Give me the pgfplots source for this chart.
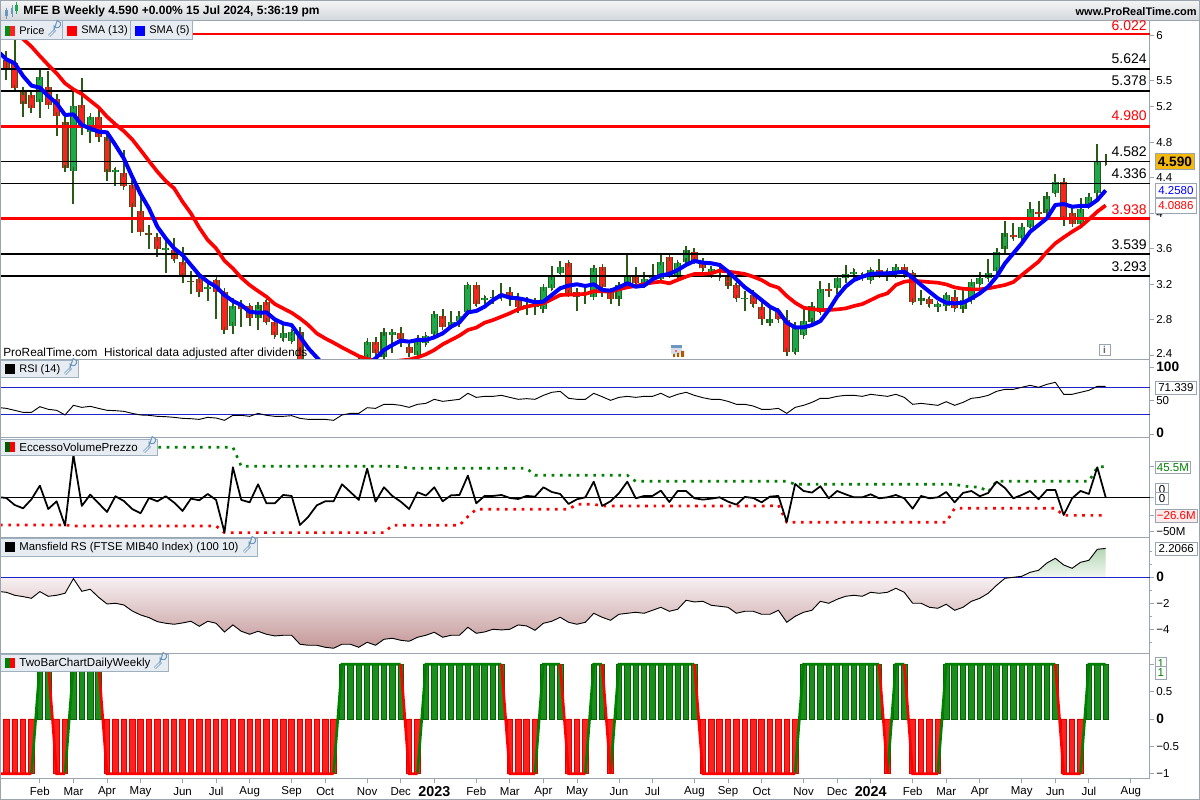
\documentclass[border=0pt]{standalone}
\usepackage{fontspec}
\setmainfont{Liberation Sans}
\usepackage{pgfplots}
\usepackage{pgfplotstable}
\pgfplotsset{compat=1.18}
\definecolor{frame}{HTML}{9AA5B0}
\definecolor{wick}{HTML}{2B5A16}
\definecolor{cgreen}{HTML}{1CA84C}
\definecolor{cred}{HTML}{FF2020}
\definecolor{chipbg}{HTML}{E6ECF2}
\definecolor{chipln}{HTML}{9FB0BF}
\definecolor{wr}{HTML}{6C97BE}
\definecolor{lvlblue}{HTML}{2222CC}
\definecolor{dgreen}{HTML}{008000}
\definecolor{gold}{HTML}{F4B90E}
\definecolor{mtop}{HTML}{F7F0F2}
\definecolor{mbot}{HTML}{C49898}
\definecolor{ptop}{HTML}{B4D6B4}
\definecolor{pbot}{HTML}{F2F8F2}
\definecolor{bgreen}{HTML}{1B8F1B}
\definecolor{bgreend}{HTML}{0A5F0A}
\newcommand\fs[1]{\fontsize{#1}{#1}\selectfont}
% i open high low close
\pgfplotstableread{
i o h l c
4 5.251 5.623 5.078 5.540
8 4.480 5.390 4.100 5.213
10 4.912 5.097 4.796 5.089
13 4.461 4.506 4.311 4.484
19 3.581 3.717 3.322 3.604
24 3.141 3.228 3.014 3.171
27 2.731 3.040 2.634 2.957
30 2.822 2.983 2.683 2.961
33 2.592 2.739 2.555 2.645
34 2.562 2.683 2.547 2.656
38 2.16 2.26 2.12 2.22
40 2.10 2.22 2.06 2.20
41 2.18 2.28 2.14 2.26
42 2.24 2.39 2.20 2.32
43 2.372 2.560 2.353 2.552
45 2.383 2.702 2.383 2.657
46 2.631 2.691 2.428 2.657
49 2.402 2.627 2.383 2.552
50 2.533 2.627 2.514 2.616
51 2.638 2.902 2.616 2.860
53 2.729 2.902 2.721 2.778
54 2.789 2.902 2.721 2.838
55 2.883 3.202 2.853 3.191
57 3.026 3.063 2.977 3.041
58 3.041 3.135 2.977 3.060
59 3.052 3.210 3.030 3.093
62 2.928 3.060 2.853 2.966
63 2.947 3.048 2.853 2.966
64 2.917 3.165 2.879 3.165
65 3.161 3.406 3.135 3.285
66 3.330 3.462 3.315 3.390
69 3.078 3.191 2.977 3.097
70 3.060 3.417 3.060 3.379
73 3.030 3.218 2.954 3.191
74 3.210 3.530 3.191 3.285
76 3.210 3.338 3.154 3.263
77 3.266 3.428 3.248 3.278
78 3.255 3.530 3.240 3.454
80 3.293 3.454 3.259 3.436
81 3.454 3.594 3.436 3.586
84 3.315 3.405 3.278 3.368
85 3.278 3.436 3.274 3.304
88 3.033 3.127 2.902 3.048
91 2.766 2.927 2.732 2.803
94 2.439 2.777 2.409 2.721
95 2.627 2.916 2.619 2.788
96 2.777 2.957 2.769 2.957
97 2.890 3.236 2.879 3.142
99 3.153 3.273 3.089 3.266
100 3.266 3.416 3.217 3.315
101 3.315 3.367 3.258 3.341
102 3.273 3.322 3.266 3.303
103 3.247 3.367 3.239 3.360
105 3.303 3.360 3.239 3.341
106 3.315 3.424 3.303 3.390
109 3.014 3.134 2.965 3.040
111 2.946 2.984 2.890 2.976
112 2.957 3.097 2.901 3.078
114 2.916 3.134 2.909 3.021
115 3.021 3.228 3.003 3.221
116 3.198 3.341 3.191 3.266
117 3.266 3.480 3.255 3.330
118 3.352 3.604 3.322 3.567
119 3.593 3.916 3.593 3.773
121 3.717 3.886 3.698 3.849
122 3.841 4.131 3.830 4.044
124 4.007 4.206 3.999 4.195
125 4.225 4.439 4.217 4.356
128 3.875 4.168 3.867 4.044
129 4.093 4.225 4.082 4.179
130 4.225 4.781 4.168 4.582
131 4.575 4.668 4.544 4.590
}\greentab
\pgfplotstableread{
i o h l c
0 5.728 5.833 5.503 5.642
1 5.691 5.954 5.390 5.409
2 5.371 5.427 5.089 5.228
3 5.337 5.371 5.134 5.183
5 5.427 5.604 5.217 5.217
6 5.292 5.341 4.875 5.097
7 5.033 5.108 4.469 4.506
9 5.224 5.521 4.886 4.957
11 5.089 5.202 4.807 4.856
12 4.856 4.920 4.367 4.465
14 4.450 4.713 4.299 4.307
15 4.314 4.375 3.781 4.074
16 4.021 4.187 3.784 3.784
17 3.781 3.867 3.600 3.750
18 3.728 3.773 3.510 3.593
20 3.585 3.717 3.461 3.480
21 3.453 3.623 3.209 3.284
22 3.239 3.348 3.092 3.220
23 3.254 3.303 3.051 3.107
25 3.247 3.254 2.803 3.115
26 3.115 3.126 2.634 2.683
28 2.965 3.021 2.720 2.916
29 2.953 2.965 2.731 2.822
31 3.002 3.021 2.765 2.777
32 2.769 2.795 2.607 2.623
35 2.664 2.720 2.269 2.307
36 2.31 2.35 2.22 2.25
37 2.26 2.30 2.14 2.18
39 2.22 2.25 2.08 2.12
44 2.552 2.601 2.375 2.428
47 2.654 2.714 2.496 2.578
48 2.496 2.522 2.379 2.428
52 2.845 2.917 2.721 2.721
56 3.187 3.191 2.954 2.977
60 3.116 3.172 2.954 3.060
61 3.030 3.097 2.879 2.947
67 3.436 3.447 3.078 3.097
68 3.116 3.135 2.898 3.060
71 3.390 3.398 3.060 3.165
72 3.116 3.154 2.973 3.037
75 3.278 3.390 3.202 3.218
79 3.503 3.511 3.285 3.315
82 3.567 3.605 3.436 3.466
83 3.454 3.492 3.353 3.379
86 3.278 3.315 3.161 3.180
87 3.195 3.210 3.033 3.041
89 3.078 3.134 2.939 2.976
90 2.946 3.003 2.739 2.803
92 2.890 2.927 2.796 2.803
93 2.796 2.909 2.394 2.439
98 3.142 3.209 3.059 3.119
104 3.360 3.480 3.307 3.315
107 3.390 3.397 3.277 3.315
108 3.322 3.341 2.984 3.003
110 3.029 3.051 2.939 2.976
113 3.059 3.134 2.916 2.927
120 3.755 3.894 3.709 3.728
123 4.010 4.142 3.924 3.991
126 4.356 4.394 3.860 3.924
127 4.007 4.093 3.875 3.879
}\redtab
% i sma13 sma5
\pgfplotstableread{
i s13 s5
-0.75 6.30 5.804
0 6.15 5.736
1 6.03 5.691
2 5.965 5.548
3 5.879 5.439
4 5.773 5.416
5 5.672 5.322
6 5.578 5.239
7 5.465 5.108
8 5.397 5.115
9 5.345 4.995
10 5.269 4.957
11 5.194 4.920
12 5.089 4.912
13 5.003 4.769
14 4.927 4.619
15 4.833 4.412
16 4.713 4.217
17 4.589 4.055
18 4.469 3.848
19 4.363 3.717
20 4.281 3.604
21 4.130 3.529
22 3.999 3.416
23 3.837 3.303
24 3.698 3.228
25 3.604 3.171
26 3.465 3.077
27 3.378 3.010
28 3.273 2.965
29 3.190 2.889
30 3.123 2.878
31 3.059 2.882
32 2.976 2.803
33 2.927 2.758
34 2.878 2.739
35 2.814 2.607
36 2.739 2.476
37 2.645 2.374
38 2.589 2.269
39 2.540 2.22
40 2.487 2.19
41 2.438 2.19
42 2.389 2.22
43 2.356 2.29
44 2.34 2.364
45 2.33 2.458
46 2.33 2.514
47 2.34 2.563
48 2.35 2.552
49 2.375 2.571
50 2.409 2.571
51 2.458 2.601
52 2.522 2.646
53 2.571 2.721
54 2.620 2.770
55 2.684 2.883
56 2.710 2.898
57 2.766 2.947
58 2.796 3.022
59 2.834 3.078
60 2.872 3.048
61 2.917 3.041
62 2.947 3.022
63 2.966 2.996
64 2.984 3.003
65 3.030 3.078
66 3.078 3.154
67 3.082 3.184
68 3.086 3.199
69 3.090 3.180
70 3.120 3.199
71 3.120 3.135
72 3.116 3.127
73 3.142 3.165
74 3.165 3.210
75 3.180 3.172
76 3.202 3.184
77 3.218 3.255
78 3.229 3.300
79 3.210 3.315
80 3.248 3.360
81 3.285 3.417
82 3.315 3.462
83 3.315 3.443
84 3.323 3.436
85 3.353 3.417
86 3.342 3.342
87 3.330 3.255
88 3.315 3.165
89 3.285 3.097
90 3.247 3.021
91 3.191 2.946
92 3.161 2.897
93 3.067 2.766
94 2.991 2.713
95 2.935 2.713
96 2.920 2.739
97 2.909 2.784
98 2.909 2.909
99 2.916 3.059
100 2.927 3.172
101 2.954 3.247
102 2.976 3.285
103 3.021 3.315
104 3.067 3.322
105 3.097 3.322
106 3.191 3.330
107 3.228 3.341
108 3.239 3.273
109 3.232 3.191
110 3.224 3.115
111 3.217 3.040
112 3.198 2.991
113 3.164 2.984
114 3.149 2.991
115 3.142 3.040
116 3.142 3.097
117 3.153 3.172
118 3.172 3.285
119 3.191 3.435
120 3.224 3.548
121 3.303 3.661
122 3.379 3.792
123 3.454 3.867
124 3.567 3.943
125 3.661 4.093
126 3.728 4.104
127 3.792 4.074
128 3.849 4.082
129 3.931 4.082
130 4.018 4.149
131 4.0886 4.2580
}\smatab
% i rsi evp up dn mrs
\pgfplotstableread{
i rsi evp up dn mrs
-0.75 39.7 0 73.5 -40.7 -1.094
0 38.7 -1 73.5 -40.7 -1.145
1 35.8 -11.3 73.5 -40.7 -1.374
2 32.8 -16.2 73.5 -40.7 -1.476
3 32.8 -2.9 73.5 -40.7 -1.603
4 41.2 17.2 73.5 -40.7 -1.094
5 37.3 -17.2 73.5 -40.7 -1.451
6 35.8 -5.9 73.5 -40.7 -1.374
7 28.9 -41.7 73.5 -40.7 -1.222
8 43.2 62 73.5 -42.1 -0.102
9 40.2 -12.7 73.5 -42.1 -1.069
10 41.7 3.9 73.5 -42.1 -0.916
11 38.7 -8.8 73.5 -42.1 -1.527
12 35.8 -21.6 73.5 -42.1 -2.036
13 35.3 1.5 73.5 -42.1 -1.985
14 34.3 -5.4 73.5 -42.1 -2.112
15 31.3 -17.2 73.5 -42.1 -2.570
16 28.9 -23.5 73.5 -42.1 -2.876
17 28.4 -1 73.5 -42.1 -3.079
18 26.9 -5.9 73.5 -42.1 -3.385
19 26.4 1.5 73.5 -42.1 -3.512
20 25.4 -7.8 73.5 -42.1 -3.588
21 23.9 -20.1 73.5 -42.1 -3.487
22 23.4 -2 73.5 -42.1 -3.359
23 22.4 -4.4 73.5 -42.1 -3.741
24 25.4 4.9 73.5 -42.1 -3.359
25 24.4 -3.9 73.5 -42.1 -3.512
26 21.0 -51.5 73.5 -52 -4.174
27 28.4 44.1 73.5 -52 -3.639
28 28.4 -3.9 45.6 -52 -4.123
29 26.9 -7.4 45.6 -52 -4.352
30 31.3 19.1 45.6 -52 -4.123
31 28.4 -8.8 45.6 -52 -4.352
32 26.9 -8.8 45.6 -52 -4.479
33 26.9 3.4 45.6 -52 -4.428
34 27.9 2 45.6 -52 -4.428
35 23.9 -40.7 45.6 -52 -5.115
36 22.4 -28.4 45.6 -52 -5.192
37 22.4 -11.8 45.6 -52 -5.192
38 22.4 -5.9 45.6 -52 -5.345
39 21.0 -5.9 45.6 -52 -5.421
40 28.9 19.1 45.6 -52 -5.115
41 31.3 7.8 45.6 -52 -5.115
42 31.3 -3.9 45.6 -52 -5.345
43 39.7 42.1 45.6 -52 -4.963
44 38.7 -6.4 45.6 -52 -5.192
45 44.7 14.7 45.6 -52 -4.734
46 44.7 2 45.6 -41.2 -4.657
47 43.2 -6.4 45.1 -41.2 -4.810
48 40.2 -17.2 42.6 -41.2 -4.886
49 44.7 7.4 42.6 -41.2 -4.581
50 46.1 2.5 42.6 -41.2 -4.428
51 52.1 14.7 42.6 -41.2 -4.199
52 49.1 -5.9 42.6 -41.2 -4.581
53 50.6 2.9 42.6 -41.2 -4.428
54 52.1 3.4 42.6 -41.2 -4.428
55 61.0 31.9 42.6 -28.4 -3.818
56 55.0 -8.8 42.6 -17.6 -4.276
57 56.5 2 42.6 -17.6 -4.174
58 56.5 2 42.6 -17.6 -3.970
59 58.0 3.4 42.6 -17.6 -4.021
60 55.0 -1 42.6 -17.6 -3.970
61 52.1 -2.5 42.6 -17.6 -3.639
62 53.1 2 42.6 -17.6 -3.716
63 52.1 1 32.3 -17.6 -4.047
64 58.0 14.7 32.3 -17.6 -3.512
65 62.5 7.8 32.3 -17.6 -3.359
66 63.9 4.9 32.3 -17.6 -3.054
67 53.6 -9.8 32.3 -17.6 -3.436
68 52.1 -2.9 32.3 -10.3 -3.588
69 52.1 0 32.3 -10.3 -3.436
70 61.0 23 32.3 -10.3 -2.749
71 56.0 -12.7 32.3 -12.7 -3.054
72 50.6 -5.9 32.3 -12.7 -3.283
73 55.0 5.9 32.3 -12.7 -2.825
74 56.5 23 32.3 -12.7 -2.749
75 55.0 -1.5 23.5 -12.7 -2.672
76 56.5 2 23.5 -12.7 -2.749
77 56.5 2 23.5 -12.7 -2.520
78 61.0 9.8 23.5 -12.7 -2.291
79 55.0 -6.9 23.5 -12.7 -2.596
80 59.5 9.3 23.5 -12.7 -2.443
81 62.5 9.3 23.5 -12.7 -1.756
82 58.0 -1.5 23.5 -12.7 -1.883
83 54.5 -3.4 23.5 -12.7 -1.832
84 52.1 -2 23.5 -12.7 -2.138
85 52.1 0 23.5 -12.7 -2.214
86 49.1 -6.4 23.5 -12.7 -2.291
87 44.7 -10.8 23.5 -12.7 -2.749
88 44.7 0.5 23.5 -12.7 -2.596
89 42.2 -1 23.5 -12.7 -2.596
90 37.3 -7.4 23.5 -12.7 -2.825
91 37.3 1 23.5 -12.7 -2.825
92 38.7 2 23.5 -11.5 -2.520
93 31.3 -36.3 23.5 -36.8 -3.436
94 40.2 19.6 19.1 -36.8 -2.978
95 43.2 9.3 19.1 -36.8 -2.672
96 47.6 6.9 19.1 -36.8 -2.520
97 53.6 16.2 19.1 -36.8 -1.832
98 53.6 -1.5 19.1 -36.8 -1.985
99 56.5 9.3 19.1 -36.8 -1.680
100 58.0 4.4 19.1 -36.8 -1.451
101 58.0 0 19.1 -36.8 -1.374
102 56.5 0 19.1 -36.8 -1.451
103 59.5 4.4 19.1 -36.8 -1.145
104 58.0 -1.5 19.1 -36.8 -1.222
105 56.5 0 19.1 -36.8 -1.145
106 59.5 3.4 19.1 -36.8 -0.840
107 55.0 -1.5 19.1 -36.8 -1.145
108 44.7 -16.7 19.1 -36.8 -1.985
109 46.1 2 19.1 -36.8 -1.985
110 44.7 -1.5 19.1 -36.8 -2.291
111 43.2 0 19.1 -36.8 -2.367
112 48.6 7.8 19.1 -36.8 -2.061
113 43.2 -7.4 19.1 -16.2 -2.520
114 47.6 6.4 16.7 -16.2 -2.291
115 53.6 9.3 15.2 -16.2 -1.832
116 55.0 1.5 15.2 -16.2 -1.603
117 58.0 6.4 7.8 -16.2 -1.222
118 63.9 23 23.5 -16.2 -0.611
119 66.9 13.7 23.5 -16.2 -0.076
120 66.9 -1.5 23.5 -16.2 0
121 69.9 3.4 23.5 -16.2 0.076
122 72.8 9.3 23.5 -16.2 0.382
123 69.9 -2.9 23.5 -16.2 0.534
124 74.3 10.8 23.5 -16.2 1.094
125 77.3 10.8 23.5 -16.2 1.451
126 59.5 -26 23.5 -26.6 0.942
127 59.5 -1.5 23.5 -26.6 0.687
128 62.5 9.3 23.5 -26.6 1.145
129 65.4 4.9 23.5 -26.6 1.298
130 71.3 44.1 44.1 -26.6 2.138
131 71.339 0 45.5 -26.6 2.2066
}\osctab
\pgfplotsset{
 panel/.style={scale only axis, width=690pt, xmin=-0.75, xmax=136.28,
  axis line style={color=frame,line width=.6pt},
  tick style={color=frame,line width=.5pt},
  major tick length=2.4pt, minor tick length=1.4pt,
  tick align=outside, ytick pos=right, xtick=\empty,
  yticklabel style={anchor=west,inner sep=0pt,xshift=1.2pt,font=\fs{6.9},text=black},
  clip=true},
 every axis plot/.append style={forget plot}
}
\newcommand\chip[4]{\fill[chipbg] (#1,#2) rectangle (#3,#4); \draw[chipln,line width=.6pt] (#1,#2) rectangle (#3,#4);}
\newcommand\wrench[2]{%
 \draw[wr,line width=1.5pt] (#1-4,#2+5)--(#1+2,#2-1);
 \draw[chipbg,line width=.7pt] (#1-4,#2+5)--(#1+2,#2-1);
 \draw[wr,line width=.6pt,fill=chipbg] (#1+1,#2-5) arc (150:-90:3.6) -- (#1+1,#2-1) -- cycle;
}
\begin{document}
\begin{tikzpicture}[x=0.6pt,y=-0.6pt]
\useasboundingbox (0,0) rectangle (1200,800);
\fill[white] (0,0) rectangle (1200,800);
% ---------- PRICE ----------
\begin{axis}[panel, at={(0pt,-12.6pt)}, anchor=north west, height=203.1pt,
  ymin=2.351, ymax=6.168,
  ytick={2.4,2.8,3.2,3.6,4,4.4,4.8,5.2,5.5,6},
  yticklabels={\raisebox{1.6pt}{2.4},2.8,3.2,3.6,4,4.4,4.8,5.2,5.5,6}]
 % wicks
 \addplot[draw=none,error bars/.cd,y dir=plus,y explicit,error mark=none,error bar style={color=wick,line width=1.2pt}]
   table[x=i,y=l,y error plus expr=\thisrow{h}-\thisrow{l}]{\greentab};
 \addplot[draw=none,error bars/.cd,y dir=plus,y explicit,error mark=none,error bar style={color=wick,line width=1.2pt}]
   table[x=i,y=l,y error plus expr=\thisrow{h}-\thisrow{l}]{\redtab};
 % bodies
 \addplot[draw=none,error bars/.cd,y dir=plus,y explicit,error mark=none,error bar style={color=wick,line width=4.2pt}]
   table[x=i,y=o,y error plus expr=\thisrow{c}-\thisrow{o}]{\greentab};
 \addplot[draw=none,error bars/.cd,y dir=plus,y explicit,error mark=none,error bar style={color=wick,line width=4.2pt}]
   table[x=i,y=c,y error plus expr=\thisrow{o}-\thisrow{c}]{\redtab};
 \addplot[draw=none,error bars/.cd,y dir=both,y explicit,error bar style={color=cgreen,line width=2.9pt},error mark options={rotate=0,color=wick,mark size=2.1pt,line width=.7pt}]
   table[x=i,y=o,y error plus expr=\thisrow{c}-\thisrow{o},y error minus expr=0]{\greentab};
 \addplot[draw=none,error bars/.cd,y dir=both,y explicit,error bar style={color=cred,line width=2.9pt},error mark options={rotate=0,color=wick,mark size=2.1pt,line width=.7pt}]
   table[x=i,y=c,y error plus expr=\thisrow{o}-\thisrow{c},y error minus expr=0]{\redtab};
 % levels
 \addplot[black,line width=1pt] coordinates {(-0.75,5.624)(136.28,5.624)};
 \addplot[black,line width=1pt] coordinates {(-0.75,5.378)(136.28,5.378)};
 \addplot[black,line width=1pt] coordinates {(-0.75,4.582)(136.28,4.582)};
 \addplot[black,line width=1pt] coordinates {(-0.75,4.336)(136.28,4.336)};
 \addplot[black,line width=1pt] coordinates {(-0.75,3.539)(136.28,3.539)};
 \addplot[black,line width=1pt] coordinates {(-0.75,3.293)(136.28,3.293)};
 \addplot[red,line width=1.6pt] coordinates {(-0.75,6.022)(136.28,6.022)};
 \addplot[red,line width=1.6pt] coordinates {(-0.75,4.980)(136.28,4.980)};
 \addplot[red,line width=1.6pt] coordinates {(-0.75,3.938)(136.28,3.938)};
 % sma
 \addplot[red,line width=2.2pt,line join=round] table[x=i,y=s13]{\smatab};
 \addplot[blue,line width=2.4pt,line join=round] table[x=i,y=s5]{\smatab};
\end{axis}
% ---------- RSI ----------
\begin{axis}[panel, at={(0pt,-215.7pt)}, anchor=north west, height=46.8pt,
  ymin=-4.44, ymax=111.1,
  ytick={0,50,100},
  yticklabels={\raisebox{2.6pt}{\textbf{\fs{8.2}0}},50,\textbf{\fs{8.2}100}}]
 \addplot[lvlblue,line width=.6pt] coordinates {(-0.75,70)(136.28,70)};
 \addplot[lvlblue,line width=.6pt] coordinates {(-0.75,30)(136.28,30)};
 \addplot[black,line width=.55pt] table[x=i,y=rsi]{\osctab};
\end{axis}
% ---------- EVP ----------
\begin{axis}[panel, at={(0pt,-262.5pt)}, anchor=north west, height=60pt,
  ymin=-59.1, ymax=87.9,
  ytick={-50,-26.6,0,45.5},
  yticklabels={−50M,,,}]
 \addplot[black,line width=.7pt] coordinates {(-0.75,0)(136.28,0)};
 \addplot[dgreen,line width=1.6pt,dash pattern=on 1.6pt off 3.4pt] table[x=i,y=up]{\osctab};
 \addplot[red,line width=1.6pt,dash pattern=on 1.6pt off 3.4pt] table[x=i,y=dn]{\osctab};
 \addplot[black,line width=1.05pt,line join=round] table[x=i,y=evp]{\osctab};
\end{axis}
% ---------- MANSFIELD ----------
\begin{axis}[panel, at={(0pt,-322.5pt)}, anchor=north west, height=69.6pt,
  ymin=-5.82, ymax=3.04,
  ytick={-4,-2,0},
  yticklabels={−4,−2,\textbf{\fs{8.2}0}},
  minor ytick={-5,-3,-1,1,2}]
 \addplot[draw=none,top color=mtop,bottom color=mbot,restrict x to domain=-1:120] table[x=i,y=mrs]{\osctab} \closedcycle;
 \addplot[draw=none,top color=ptop,bottom color=pbot,restrict x to domain=120:131] table[x=i,y=mrs]{\osctab} \closedcycle;
 \addplot[lvlblue,line width=.7pt] coordinates {(-0.75,0)(136.28,0)};
 \addplot[black,line width=.55pt] table[x=i,y=mrs]{\osctab};
\end{axis}
% ---------- TWOBAR ----------
\begin{axis}[panel, at={(0pt,-392.1pt)}, anchor=north west, height=75.3pt,
  ymin=-1.097, ymax=1.197,
  ytick={-1,-0.5,0,0.5,1},
  yticklabels={−1,−0.5,\textbf{\fs{8.2}0},0.5,},
  xtick={4,8,12,16,21,25,29,34,38,43,47,51,56,60,64,68,73,77,82,86,90,95,99,103,108,112,116,121,125,129,134},
  xticklabels={Feb,Mar,Apr,May,Jun,Jul,Aug,Sep,Oct,Nov,Dec,{\textbf{\fs{8.6}2023}},Feb,Mar,Apr,May,Jun,Jul,Aug,Sep,Oct,Nov,Dec,{\textbf{\fs{8.6}2024}},Feb,Mar,Apr,May,Jun,Jul,Aug},
  xtick pos=bottom,
  xticklabel style={font=\fs{6.9},text=black,anchor=center,yshift=-5pt}]
 \addplot[ybar,bar width=3.3pt,bar shift=0pt,fill=bgreen,draw=bgreend,line width=.5pt] coordinates {
  (4,1)(5,1)(8,1)(9,1)(10,1)(11,1)(40,1)(41,1)(42,1)(43,1)(44,1)(45,1)(46,1)(47,1)
  (50,1)(51,1)(52,1)(53,1)(54,1)(55,1)(56,1)(57,1)(58,1)(59,1)(64,1)(65,1)(66,1)(70,1)(71,1)
  (73,1)(74,1)(75,1)(76,1)(77,1)(78,1)(79,1)(80,1)(81,1)(82,1)
  (95,1)(96,1)(97,1)(98,1)(99,1)(100,1)(101,1)(102,1)(103,1)(104,1)(106,1)(107,1)
  (112,1)(113,1)(114,1)(115,1)(116,1)(117,1)(118,1)(119,1)(120,1)(121,1)(122,1)(123,1)(124,1)(125,1)
  (129,1)(130,1)(131,1)};
 \addplot[ybar,bar width=3.3pt,bar shift=0pt,fill=cred,draw=red!85!black,line width=.5pt] coordinates {
  (0,-1)(1,-1)(2,-1)(3,-1)(6,-1)(7,-1)
  (12,-1)(13,-1)(14,-1)(15,-1)(16,-1)(17,-1)(18,-1)(19,-1)(20,-1)(21,-1)(22,-1)(23,-1)(24,-1)(25,-1)
  (26,-1)(27,-1)(28,-1)(29,-1)(30,-1)(31,-1)(32,-1)(33,-1)(34,-1)(35,-1)(36,-1)(37,-1)(38,-1)(39,-1)
  (48,-1)(49,-1)(60,-1)(61,-1)(62,-1)(63,-1)(67,-1)(68,-1)(69,-1)(72,-1)
  (83,-1)(84,-1)(85,-1)(86,-1)(87,-1)(88,-1)(89,-1)(90,-1)(91,-1)(92,-1)(93,-1)(94,-1)
  (105,-1)(108,-1)(109,-1)(110,-1)(111,-1)(126,-1)(127,-1)(128,-1)};
 \addplot[dgreen,line width=1.6pt,unbounded coords=jump] coordinates {
  (3,-1)(4,1)(5,1)(5,nan)(7,-1)(8,1)(11,1)(11,nan)(39,-1)(40,1)(47,1)(47,nan)
  (49,-1)(50,1)(59,1)(59,nan)(63,-1)(64,1)(66,1)(66,nan)(69,-1)(70,1)(71,1)(71,nan)
  (72,-1)(73,1)(82,1)(82,nan)(94,-1)(95,1)(104,1)(104,nan)(105,-1)(106,1)(107,1)(107,nan)
  (111,-1)(112,1)(125,1)(125,nan)(128,-1)(129,1)(131,1)};
 \addplot[red,line width=1.6pt,unbounded coords=jump] coordinates {
  (-0.75,-1)(3,-1)(3,nan)(5,1)(6,-1)(7,-1)(7,nan)(11,1)(12,-1)(39,-1)(39,nan)
  (47,1)(48,-1)(49,-1)(49,nan)(59,1)(60,-1)(63,-1)(63,nan)(66,1)(67,-1)(69,-1)(69,nan)
  (71,1)(72,-1)(72,nan)(82,1)(83,-1)(94,-1)(94,nan)(104,1)(105,-1)(105,nan)
  (107,1)(108,-1)(111,-1)(111,nan)(125,1)(126,-1)(128,-1)};
\end{axis}
% ---------- header ----------
\shade[top color=white!96!black,bottom color=frame!45!white] (0,0) rectangle (1200,21);
\draw[frame,line width=.6pt] (0,21)--(1200,21);
\draw[wr,line width=.5pt] (6,8)--(6,19) (12,5)--(12,17);
\draw[cgreen,line width=.5pt] (16,2)--(16,14);
\fill[wr] (5,10) rectangle (7.5,16); \fill[wr] (10.5,8) rectangle (13,14); \fill[cgreen] (15,5) rectangle (17.5,11);
\node[anchor=west,inner sep=0pt,font=\fs{7.2}\bfseries] at (23,11.5) {MFE B Weekly 4.590 +0.00\% 15 Jul 2024, 5:36:19 pm};
\node[anchor=east,inner sep=0pt,font=\fs{6.6}\bfseries] at (1197,11.5) {www.ProRealTime.com};
% chips
\chip{0}{21}{62}{40}
\fill[dgreen!70!cgreen] (5,26) rectangle (10,36); \fill[cred] (10,26) rectangle (15,36);
\node[anchor=west,inner sep=0pt,font=\fs{6.6}] at (19,31) {Price}; \wrench{53}{31}
\chip{62}{21}{130}{40}
\fill[red] (67,26) rectangle (77,36);
\node[anchor=west,inner sep=0pt,font=\fs{6.6}] at (81,31) {SMA (13)};
\chip{130}{21}{192}{40}
\fill[blue] (135,26) rectangle (145,36);
\node[anchor=west,inner sep=0pt,font=\fs{6.6}] at (149,31) {SMA (5)};
\chip{0}{361}{78}{377}
\fill[black] (5,364) rectangle (15,374);
\node[anchor=west,inner sep=0pt,font=\fs{6.6}] at (19,369.5) {RSI (14)}; \wrench{69}{369}
\chip{0}{439}{157}{455}
\fill[dgreen!70!black] (5,442) rectangle (10,452); \fill[red] (10,442) rectangle (15,452);
\node[anchor=west,inner sep=0pt,font=\fs{6.95}] at (19,447.5) {EccessoVolumePrezzo}; \wrench{148}{447}
\chip{0}{538}{257}{556}
\fill[black] (5,542) rectangle (15,552);
\node[anchor=west,inner sep=0pt,font=\fs{6.8}] at (19,547.5) {Mansfield RS (FTSE MIB40 Index) (100 10)}; \wrench{248}{547}
\chip{0}{654}{168}{671}
\fill[dgreen] (5,658) rectangle (10,668); \fill[red] (10,658) rectangle (15,668);
\node[anchor=west,inner sep=0pt,font=\fs{6.95}] at (19,663.5) {TwoBarChartDailyWeekly}; \wrench{159}{663}
% notes
\node[anchor=west,inner sep=0pt,font=\fs{7.1}] at (3,353) {ProRealTime.com\ \ Historical data adjusted after dividends};
% calendar icon
\fill[wr!30!white] (671,345) rectangle (682,354); \fill[wr] (671,345) rectangle (682,348);
\fill[red!60!white] (675,350) rectangle (677,352);
\fill[orange!70!black] (673,354) rectangle (675,357) (677,353) rectangle (679,357) (681,351) rectangle (684,357);
% info icon
\draw[frame,line width=.5pt,fill=white] (1099,344) rectangle (1110,355);
\node[inner sep=0pt,font=\fs{6}\bfseries,text=black!60] at (1104.5,349.5) {i};
% level labels
\foreach \yy/\tt/\cc in {26/6.022/red,59/5.624/black,81/5.378/black,116/4.980/red,152/4.582/black,174/4.336/black,210/3.938/red,245/3.539/black,267/3.293/black}{
 \node[anchor=east,inner sep=0pt,text=\cc,font=\fs{8.4}] at (1147,\yy) {\tt};
}
% value tags
\node[draw=frame,fill=gold,line width=.5pt,inner sep=0pt,minimum width=23.4pt,minimum height=9.6pt,anchor=north west,font=\fs{8.2}\bfseries] at (1155,153) {4.590};
\node[draw=frame,fill=white,text=blue,line width=.5pt,inner sep=0pt,minimum width=24.6pt,minimum height=8.4pt,anchor=north west,font=\fs{6.9}] at (1155,183) {4.2580};
\node[draw=frame,fill=white,text=red,line width=.5pt,inner sep=0pt,minimum width=24.6pt,minimum height=8.8pt,anchor=north west,font=\fs{6.9}] at (1155,198) {4.0886};
\node[draw=frame,fill=white,line width=.5pt,inner sep=0pt,minimum width=24.6pt,minimum height=7.6pt,anchor=north west,font=\fs{6.9}] at (1155,381) {71.339};
\node[draw=frame,fill=white,text=dgreen,line width=.5pt,inner sep=0pt,minimum width=21pt,minimum height=7.4pt,anchor=north west,font=\fs{6.9}] at (1155,461) {45.5M};
\node[draw=frame,fill=white,line width=.5pt,inner sep=0pt,minimum width=8pt,minimum height=7.4pt,anchor=north west,font=\fs{6.9}] at (1155,483) {0};
\node[draw=frame,fill=white,line width=.5pt,inner sep=0pt,minimum width=8pt,minimum height=7.4pt,anchor=north west,font=\fs{6.9}] at (1155,492) {0};
\node[draw=frame,fill=red!8!white,text=red,line width=.5pt,inner sep=0pt,minimum width=25pt,minimum height=7.6pt,anchor=north west,font=\fs{6.9}] at (1155,509) {−26.6M};
\node[draw=frame,fill=white,line width=.5pt,inner sep=0pt,minimum width=25pt,minimum height=7.8pt,anchor=north west,font=\fs{6.9}] at (1155,542) {2.2066};
\node[draw=frame,fill=white,text=dgreen,line width=.5pt,inner sep=0pt,minimum width=6.4pt,minimum height=7.6pt,anchor=north west,font=\fs{6.9}] at (1155,657) {1};
\node[draw=frame,fill=white,text=dgreen,line width=.5pt,inner sep=0pt,minimum width=6.4pt,minimum height=7.6pt,anchor=north west,font=\fs{6.9}] at (1155,666) {1};
\draw[frame,line width=.6pt] (0.3,0.3) rectangle (1199.7,799.5);
\end{tikzpicture}
\end{document}
